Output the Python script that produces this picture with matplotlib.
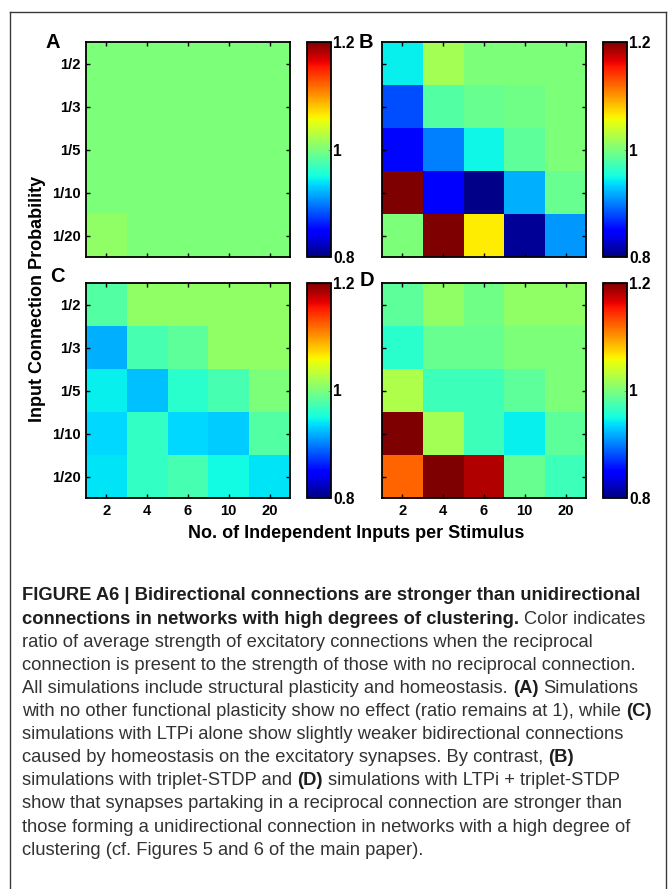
import numpy as np
import matplotlib.pyplot as plt
from matplotlib.lines import Line2D

# figure size in pixels (saved at dpi=100)
W, H = 668, 889

conn_prob = ['1/2', '1/3', '1/5', '1/10', '1/20']
n_inputs = ['2', '4', '6', '10', '20']

# ratio bidirectional / unidirectional strength, rows = conn_prob, cols = n_inputs
ratio_A = np.array([[1.00, 1.00, 1.00, 1.00, 1.00],
                    [1.00, 1.00, 1.00, 1.00, 1.00],
                    [1.00, 1.00, 1.00, 1.00, 1.00],
                    [1.00, 1.00, 1.00, 1.00, 1.00],
                    [1.01, 1.00, 1.00, 1.00, 1.00]])

ratio_B = np.array([[0.945, 1.02, 1.00, 1.00, 1.00],
                    [0.88, 0.98, 0.99, 0.995, 1.00],
                    [0.852, 0.90, 0.948, 0.985, 1.00],
                    [1.20, 0.846, 0.804, 0.92, 0.99],
                    [1.00, 1.20, 1.064, 0.808, 0.91]])

ratio_C = np.array([[0.98, 1.01, 1.01, 1.01, 1.01],
                    [0.92, 0.975, 0.985, 1.01, 1.01],
                    [0.945, 0.925, 0.96, 0.975, 1.00],
                    [0.935, 0.965, 0.935, 0.93, 0.98],
                    [0.94, 0.965, 0.975, 0.95, 0.94]])

ratio_D = np.array([[0.985, 1.01, 0.995, 1.01, 1.01],
                    [0.96, 0.99, 0.99, 1.00, 1.00],
                    [1.025, 0.97, 0.97, 0.985, 1.00],
                    [1.20, 1.02, 0.97, 0.945, 0.985],
                    [1.121, 1.20, 1.182, 0.99, 0.97]])

cbar_ticks = [0.8, 1.0, 1.2]
cbar_labels = ['0.8', '1', '1.2']

caption = [
    [("FIGURE A6 | Bidirectional connections are stronger than unidirectional", True)],
    [("connections in networks with high degrees of clustering.", True), ("Color indicates", False)],
    [("ratio of average strength of excitatory connections when the reciprocal", False)],
    [("connection is present to the strength of those with no reciprocal connection.", False)],
    [("All simulations include structural plasticity and homeostasis.", False), ("(A)", True), ("Simulations", False)],
    [("with no other functional plasticity show no effect (ratio remains at 1), while", False), ("(C)", True)],
    [("simulations with LTPi alone show slightly weaker bidirectional connections", False)],
    [("caused by homeostasis on the excitatory synapses. By contrast,", False), ("(B)", True)],
    [("simulations with triplet-STDP and", False), ("(D)", True), ("simulations with LTPi + triplet-STDP", False)],
    [("show that synapses partaking in a reciprocal connection are stronger than", False)],
    [("those forming a unidirectional connection in networks with a high degree of", False)],
    [("clustering (cf. Figures 5 and 6 of the main paper).", False)],
]

plt.rcParams['font.family'] = ['Liberation Sans', 'DejaVu Sans']
plt.rcParams['font.weight'] = 'bold'


def box(l, t, r, b):
    return [l / W, 1 - b / H, (r - l) / W, (b - t) / H]


def fx(x):
    return x / W


def fy(y):
    return 1 - y / H


fig = plt.figure(figsize=(W / 100, H / 100), dpi=100)

# panel: data, letter, left/top of heatmap, x labels?, y labels?
panels = [
    (ratio_A, 'A', 86, 42, False, True),
    (ratio_B, 'B', 382, 42, False, False),
    (ratio_C, 'C', 86, 283, True, True),
    (ratio_D, 'D', 382, 283, True, False),
]
letter_pos = {'A': (45, 42), 'B': (359, 42), 'C': (50, 276), 'D': (360, 280)}

for data, letter, left, top, xl, yl in panels:
    ax = fig.add_axes(box(left, top, left + 204, top + 215))
    im = ax.imshow(data, cmap='jet', vmin=0.8, vmax=1.2, aspect='auto',
                   interpolation='nearest')
    ax.set_xticks(range(5))
    ax.set_yticks(range(5))
    ax.set_xticklabels(n_inputs if xl else [])
    ax.set_yticklabels(conn_prob if yl else [])
    ax.tick_params(direction='in', length=3, width=1, top=True, right=True,
                   labelsize=10.6, pad=4)
    for s in ax.spines.values():
        s.set_linewidth(1.3)

    cax = fig.add_axes(box(left + 221, top, left + 245, top + 215))
    cb = fig.colorbar(im, cax=cax, ticks=cbar_ticks)
    cb.ax.set_yticklabels(cbar_labels)
    cb.ax.tick_params(direction='in', length=2, width=0.6, labelsize=11.2,
                      pad=1.5, color='#888888')
    cb.outline.set_linewidth(1.3)

    lx, ly = letter_pos[letter]
    fig.text(fx(lx), fy(ly), letter, fontsize=14.5, fontweight='bold',
             ha='left', va='center')

fig.text(fx(38), fy(299), 'Input Connection Probability', rotation=90,
         fontsize=13, fontweight='bold', ha='center', va='center')
fig.text(fx(356), fy(533), 'No. of Independent Inputs per Stimulus',
         fontsize=13, fontweight='bold', ha='center', va='center')

# outer frame
frame = dict(color='#3a3a3a', lw=1.0, transform=fig.transFigure)
fig.add_artist(Line2D([fx(10), fx(10)], [fy(12), 0], **frame))
fig.add_artist(Line2D([fx(10), fx(666)], [fy(12), fy(12)], **frame))
fig.add_artist(Line2D([fx(666), fx(666)], [fy(12), 0], **frame))

# caption, built run by run so bold and regular parts follow each other
renderer = fig.canvas.get_renderer()
cap_size = 13.2


def text_width(s, bold):
    t = fig.text(0, 0, s, fontsize=cap_size,
                 fontweight='bold' if bold else 'normal')
    w = t.get_window_extent(renderer).width
    t.remove()
    return w


space_w = text_width('x x', False) - text_width('xx', False)

for i, line in enumerate(caption):
    x = 22
    y = 600.5 + 23.1 * i
    for s, bold in line:
        t = fig.text(fx(x), fy(y), s, fontsize=cap_size,
                     fontweight='bold' if bold else 'normal',
                     color='#1e1e1e' if bold else '#333333',
                     ha='left', va='baseline')
        x += t.get_window_extent(renderer).width + space_w

fig.savefig('out.png', dpi=100)
